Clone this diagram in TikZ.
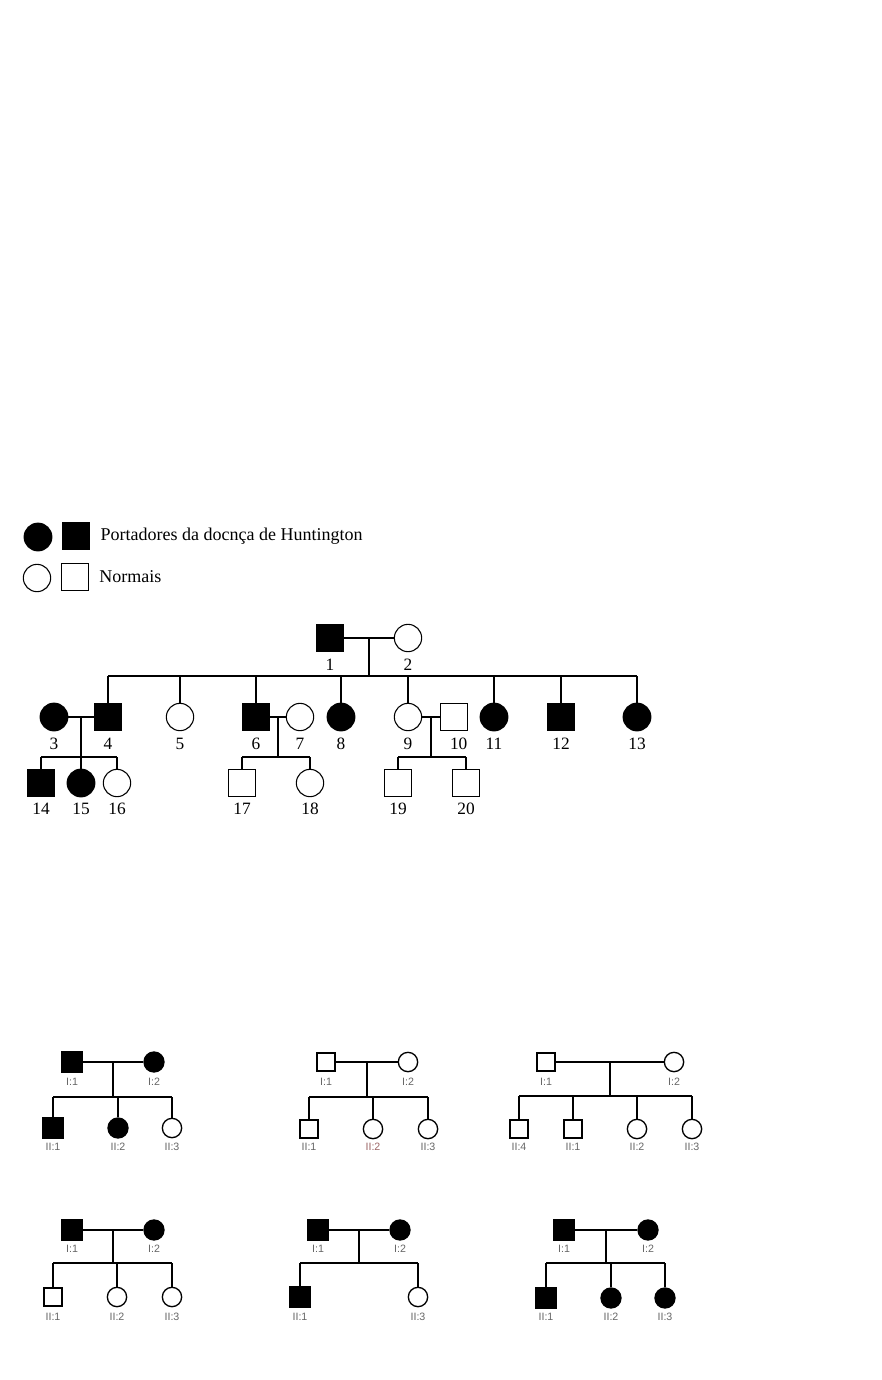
\documentclass[tikz,border=0pt]{standalone}
\usepackage{fontspec}
\setmainfont{Liberation Serif}
\newfontfamily\tagfont{Liberation Sans}
\usetikzlibrary{positioning, calc}

\begin{document}
\begin{tikzpicture}[
    x=0.75pt, y=-0.75pt,
    line width=1.1pt,
    node distance=3.5pt and 4pt,
    ill_m/.style={draw, rectangle, fill=black, minimum size=20pt, inner sep=0pt},
    ill_f/.style={draw, circle, fill=black, minimum size=20.5pt, inner sep=0pt},
    ok_m/.style={draw, rectangle, line width=0.8pt, minimum size=20pt, inner sep=0pt},
    ok_f/.style={draw, circle, line width=0.8pt, minimum size=20.5pt, inner sep=0pt},
    num/.style={font=\fontsize{13}{13}\selectfont, inner sep=1pt, text height=9pt, text depth=0pt},
    %small pedigrees
    sm_ill_m/.style={draw, rectangle, fill=black, minimum size=15pt, inner sep=0pt},
    sm_ill_f/.style={draw, circle, fill=black, minimum size=15pt, inner sep=0pt},
    sm_ok_m/.style={draw, rectangle, line width=1.8pt, minimum size=13.5pt, inner sep=0pt},
    sm_ok_f/.style={draw, circle, line width=1pt, minimum size=14.5pt, inner sep=0pt},
    tag/.style={font=\tagfont\fontsize{8}{8}\selectfont, text=black!60, inner sep=1pt, text height=5.8pt, text depth=0pt}
]
\useasboundingbox (0,0) rectangle (881,1380);

% Legend
\node (leg_f1) [ill_f] at (38,537) {};
\node (leg_m1) [ill_m] at (76,536) {};
\node (leg_t1) [right=of leg_m1, font=\fontsize{13.5}{13.5}\selectfont] {Portadores da docnça de Huntington};
\node (leg_f2) [ok_f] at (37,578) {};
\node (leg_m2) [ok_m] at (75,577) {};
\node (leg_t2) [right=of leg_m2, font=\fontsize{13.5}{13.5}\selectfont] {Normais};

% Main pedigree
\node (n1) [ill_m] at (330,638) {};
\node (n2) [ok_f] at (408,638) {};

\node (n3) [ill_f] at (54,717) {};
\node (n4) [ill_m] at (108,717) {};
\node (n5) [ok_f] at (180,717) {};
\node (n6) [ill_m] at (256,717) {};
\node (n7) [ok_f] at (300,717) {};
\node (n8) [ill_f] at (341,717) {};
\node (n9) [ok_f] at (408,717) {};
\node (n10) [ok_m] at (454,717) {};
\node (n11) [ill_f] at (494,717) {};
\node (n12) [ill_m] at (561,717) {};
\node (n13) [ill_f] at (637,717) {};

\node (n14) [ill_m] at (41,783) {};
\node (n15) [ill_f] at (81,783) {};
\node (n16) [ok_f] at (117,783) {};
\node (n17) [ok_m] at (242,783) {};
\node (n18) [ok_f] at (310,783) {};
\node (n19) [ok_m] at (398,783) {};
\node (n20) [ok_m] at (466,783) {};

% Numbers
\coordinate (row1) at (0,664);
\coordinate (row2) at (0,743);
\coordinate (row3) at (0,808);
\node (l1) [num] at (n1 |- row1) {1};
\node (l2) [num] at (n2 |- row1) {2};
\node (l3) [num] at (n3 |- row2) {3};
\node (l4) [num] at (n4 |- row2) {4};
\node (l5) [num] at (n5 |- row2) {5};
\node (l6) [num] at (n6 |- row2) {6};
\node (l7) [num] at (n7 |- row2) {7};
\node (l8) [num] at (n8 |- row2) {8};
\node (l9) [num] at (n9 |- row2) {9};
\node (l10) [num, xshift=3.5pt] at (n10 |- row2) {10};
\node (l11) [num] at (n11 |- row2) {11};
\node (l12) [num] at (n12 |- row2) {12};
\node (l13) [num] at (n13 |- row2) {13};
\node (l14) [num] at (n14 |- row3) {14};
\node (l15) [num] at (n15 |- row3) {15};
\node (l16) [num] at (n16 |- row3) {16};
\node (l17) [num] at (n17 |- row3) {17};
\node (l18) [num] at (n18 |- row3) {18};
\node (l19) [num] at (n19 |- row3) {19};
\node (l20) [num] at (n20 |- row3) {20};

\coordinate (m12) at ($(n1)!0.5!(n2)$);
\coordinate (m34) at ($(n3)!0.5!(n4)$);
\coordinate (m67) at ($(n6)!0.5!(n7)$);
\coordinate (m910) at ($(n9)!0.5!(n10)$);
\coordinate (bar1) at (0,676);
\coordinate (bar2) at (0,757);

\draw (n1) -- (n2);
\draw (m12) -- (m12 |- bar1);
\draw (n4 |- bar1) -- (n13 |- bar1);
\draw (n4 |- bar1) -- (n4);
\draw (n5 |- bar1) -- (n5);
\draw (n6 |- bar1) -- (n6);
\draw (n8 |- bar1) -- (n8);
\draw (n9 |- bar1) -- (n9);
\draw (n11 |- bar1) -- (n11);
\draw (n12 |- bar1) -- (n12);
\draw (n13 |- bar1) -- (n13);

\draw (n3) -- (n4);
\draw (m34) -- (n15);
\draw (n14 |- bar2) -- (n16 |- bar2);
\draw (n14 |- bar2) -- (n14);
\draw (n16 |- bar2) -- (n16);

\draw (n6) -- (n7);
\draw (m67) -- (m67 |- bar2);
\draw (n17 |- bar2) -- (n18 |- bar2);
\draw (n17 |- bar2) -- (n17);
\draw (n18 |- bar2) -- (n18);

\draw (n9) -- (n10);
\draw (m910) -- (m910 |- bar2);
\draw (n19 |- bar2) -- (n20 |- bar2);
\draw (n19 |- bar2) -- (n19);
\draw (n20 |- bar2) -- (n20);

% Small pedigrees, top row
\begin{scope}[line width=1pt]
\coordinate (tagI) at (0,1082);
\coordinate (tagII) at (0,1147);
\node (a1) [sm_ill_m] at (72,1062) {};
\node (a2) [sm_ill_f] at (154,1062) {};
\node (a3) [sm_ill_m] at (53,1128) {};
\node (a4) [sm_ill_f] at (118,1128) {};
\node (a5) [sm_ok_f] at (172,1128) {};
\node (ta1) [tag] at (a1 |- tagI) {I:1};
\node (ta2) [tag] at (a2 |- tagI) {I:2};
\node (ta3) [tag] at (a3 |- tagII) {II:1};
\node (ta4) [tag] at (a4 |- tagII) {II:2};
\node (ta5) [tag] at (a5 |- tagII) {II:3};
\coordinate (a_m) at ($(a1)!0.5!(a2)$);
\coordinate (a_bar) at (0,1097);
\draw (a1) -- (a2);
\draw (a_m) -- (a_m |- a_bar);
\draw (a3 |- a_bar) -- (a5 |- a_bar);
\draw (a3 |- a_bar) -- (a3);
\draw (a4 |- a_bar) -- (a4);
\draw (a5 |- a_bar) -- (a5);

\node (b1) [sm_ok_m] at (326,1062) {};
\node (b2) [sm_ok_f] at (408,1062) {};
\node (b3) [sm_ok_m] at (309,1129) {};
\node (b4) [sm_ok_f] at (373,1129) {};
\node (b5) [sm_ok_f] at (428,1129) {};
\node (tb1) [tag] at (b1 |- tagI) {I:1};
\node (tb2) [tag] at (b2 |- tagI) {I:2};
\node (tb3) [tag] at (b3 |- tagII) {II:1};
\node (tb4) [tag, text=red!35!black!60] at (b4 |- tagII) {II:2};
\node (tb5) [tag] at (b5 |- tagII) {II:3};
\coordinate (b_m) at ($(b1)!0.5!(b2)$);
\coordinate (b_bar) at (0,1097);
\draw (b1) -- (b2);
\draw (b_m) -- (b_m |- b_bar);
\draw (b3 |- b_bar) -- (b5 |- b_bar);
\draw (b3 |- b_bar) -- (b3);
\draw (b4 |- b_bar) -- (b4);
\draw (b5 |- b_bar) -- (b5);

\node (c1) [sm_ok_m] at (546,1062) {};
\node (c2) [sm_ok_f] at (674,1062) {};
\node (c3) [sm_ok_m] at (519,1129) {};
\node (c4) [sm_ok_m] at (573,1129) {};
\node (c5) [sm_ok_f] at (637,1129) {};
\node (c6) [sm_ok_f] at (692,1129) {};
\node (tc1) [tag] at (c1 |- tagI) {I:1};
\node (tc2) [tag] at (c2 |- tagI) {I:2};
\node (tc3) [tag] at (c3 |- tagII) {II:4};
\node (tc4) [tag] at (c4 |- tagII) {II:1};
\node (tc5) [tag] at (c5 |- tagII) {II:2};
\node (tc6) [tag] at (c6 |- tagII) {II:3};
\coordinate (c_m) at ($(c1)!0.5!(c2)$);
\coordinate (c_bar) at (0,1096);
\draw (c1) -- (c2);
\draw (c_m) -- (c_m |- c_bar);
\draw (c3 |- c_bar) -- (c6 |- c_bar);
\draw (c3 |- c_bar) -- (c3);
\draw (c4 |- c_bar) -- (c4);
\draw (c5 |- c_bar) -- (c5);
\draw (c6 |- c_bar) -- (c6);

% Small pedigrees, bottom row
\coordinate (tagIb) at (0,1249);
\coordinate (tagIIb) at (0,1317);
\node (d1) [sm_ill_m] at (72,1230) {};
\node (d2) [sm_ill_f] at (154,1230) {};
\node (d3) [sm_ok_m] at (53,1297) {};
\node (d4) [sm_ok_f] at (117,1297) {};
\node (d5) [sm_ok_f] at (172,1297) {};
\node (td1) [tag] at (d1 |- tagIb) {I:1};
\node (td2) [tag] at (d2 |- tagIb) {I:2};
\node (td3) [tag] at (d3 |- tagIIb) {II:1};
\node (td4) [tag] at (d4 |- tagIIb) {II:2};
\node (td5) [tag] at (d5 |- tagIIb) {II:3};
\coordinate (d_m) at ($(d1)!0.5!(d2)$);
\coordinate (d_bar) at (0,1263);
\draw (d1) -- (d2);
\draw (d_m) -- (d_m |- d_bar);
\draw (d3 |- d_bar) -- (d5 |- d_bar);
\draw (d3 |- d_bar) -- (d3);
\draw (d4 |- d_bar) -- (d4);
\draw (d5 |- d_bar) -- (d5);

\node (e1) [sm_ill_m] at (318,1230) {};
\node (e2) [sm_ill_f] at (400,1230) {};
\node (e3) [sm_ill_m] at (300,1297) {};
\node (e4) [sm_ok_f] at (418,1297) {};
\node (te1) [tag] at (e1 |- tagIb) {I:1};
\node (te2) [tag] at (e2 |- tagIb) {I:2};
\node (te3) [tag] at (e3 |- tagIIb) {II:1};
\node (te4) [tag] at (e4 |- tagIIb) {II:3};
\coordinate (e_m) at ($(e1)!0.5!(e2)$);
\coordinate (e_bar) at (0,1263);
\draw (e1) -- (e2);
\draw (e_m) -- (e_m |- e_bar);
\draw (e3 |- e_bar) -- (e4 |- e_bar);
\draw (e3 |- e_bar) -- (e3);
\draw (e4 |- e_bar) -- (e4);

\node (f1) [sm_ill_m] at (564,1230) {};
\node (f2) [sm_ill_f] at (648,1230) {};
\node (f3) [sm_ill_m] at (546,1298) {};
\node (f4) [sm_ill_f] at (611,1298) {};
\node (f5) [sm_ill_f] at (665,1298) {};
\node (tf1) [tag] at (f1 |- tagIb) {I:1};
\node (tf2) [tag] at (f2 |- tagIb) {I:2};
\node (tf3) [tag] at (f3 |- tagIIb) {II:1};
\node (tf4) [tag] at (f4 |- tagIIb) {II:2};
\node (tf5) [tag] at (f5 |- tagIIb) {II:3};
\coordinate (f_m) at ($(f1)!0.5!(f2)$);
\coordinate (f_bar) at (0,1263);
\draw (f1) -- (f2);
\draw (f_m) -- (f_m |- f_bar);
\draw (f3 |- f_bar) -- (f5 |- f_bar);
\draw (f3 |- f_bar) -- (f3);
\draw (f4 |- f_bar) -- (f4);
\draw (f5 |- f_bar) -- (f5);
\end{scope}

\end{tikzpicture}
\end{document}
